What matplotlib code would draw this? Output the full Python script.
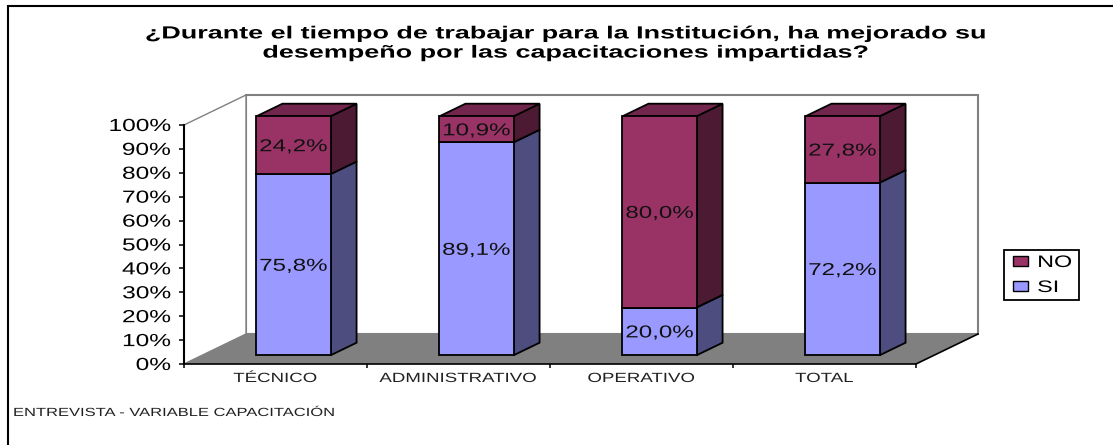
import matplotlib
matplotlib.use("Agg")
import matplotlib.pyplot as plt
from matplotlib.legend_handler import HandlerPatch
from matplotlib.lines import Line2D
from matplotlib.patches import Patch
from matplotlib.patheffects import AbstractPathEffect
from matplotlib.transforms import Affine2D

categories = ["TÉCNICO", "ADMINISTRATIVO", "OPERATIVO", "TOTAL"]
si_values = [75.8, 89.1, 20.0, 72.2]
no_values = [24.2, 10.9, 80.0, 27.8]
y_ticks = [0, 10, 20, 30, 40, 50, 60, 70, 80, 90, 100]
title = "¿Durante el tiempo de trabajar para la Institución, ha mejorado su\ndesempeño por las capacitaciones impartidas?"
footer = "ENTREVISTA - VARIABLE CAPACITACIÓN"

W, H = 1113, 445
FONT = "Liberation Sans"
TEXT_STRETCH = 1.4

# fake 3d: depth 1 is the back wall, shifted right and up in data units
DEPTH_X = 62 / 183
DEPTH_Y = 30 / 2.39
BAR_FRONT = 0.29
BAR_BACK = 0.71
BAR_WIDTH = 0.405

SI_FRONT, SI_SIDE = "#9999ff", "#4d4d80"
NO_FRONT, NO_SIDE, NO_TOP = "#993366", "#4d1a33", "#73264d"
GREY = "#808080"


class StretchX(AbstractPathEffect):
    # the reference picture was pulled wider, so the glyphs are too
    def __init__(self, text, sx):
        super().__init__()
        self.text = text
        self.sx = sx

    def draw_path(self, renderer, gc, tpath, affine, rgbFace=None):
        box = self.text.get_window_extent()
        ha = self.text.get_ha()
        cx = {"left": box.x0, "right": box.x1}.get(ha, (box.x0 + box.x1) / 2)
        stretch = Affine2D().translate(-cx, 0).scale(self.sx, 1).translate(cx, 0)
        renderer.draw_path(gc, tpath, affine + stretch, rgbFace)


def stretched(text, sx=TEXT_STRETCH):
    text.set_path_effects([StretchX(text, sx)])
    return text


def project(x, y, d):
    return x + d * DEPTH_X, y + d * DEPTH_Y


def face(ax, corners, color, edge="black", lw=1.3, z=3):
    xs, ys = zip(*[project(*c) for c in corners])
    ax.fill(xs, ys, facecolor=color, edgecolor=edge, linewidth=lw, clip_on=False, zorder=z, joinstyle="miter")


def draw_segment(ax, center, low, high, front, side, top=None):
    left, right = center - BAR_WIDTH / 2, center + BAR_WIDTH / 2
    face(ax, [(right, low, BAR_FRONT), (right, low, BAR_BACK), (right, high, BAR_BACK), (right, high, BAR_FRONT)], side)
    if top is not None:
        face(ax, [(left, high, BAR_FRONT), (right, high, BAR_FRONT), (right, high, BAR_BACK), (left, high, BAR_BACK)], top)
    face(ax, [(left, low, BAR_FRONT), (right, low, BAR_FRONT), (right, high, BAR_FRONT), (left, high, BAR_FRONT)], front)


def pct_label(value):
    return f"{value:.1f}%".replace(".", ",")


def main():
    plt.rcParams["font.family"] = FONT
    fig = plt.figure(figsize=(W / 100, H / 100), dpi=100)
    ax = fig.add_axes([184 / W, (H - 364) / H, 732 / W, 239 / H])
    ax.patch.set_visible(False)
    n = len(categories)
    ax.set_xlim(0, n)
    ax.set_ylim(0, 100)

    # walls and floor
    face(ax, [(0, 0, 1), (n, 0, 1), (n, 100, 1), (0, 100, 1)], "white", edge=GREY, lw=1.5, z=1)
    face(ax, [(0, 0, 0), (0, 0, 1), (0, 100, 1), (0, 100, 0)], "white", edge=GREY, lw=1.0, z=1)
    face(ax, [(0, 0, 0), (n, 0, 0), (n, 0, 1), (0, 0, 1)], GREY, edge="none", z=1.5)
    x_edge, y_edge = zip(project(n, 0, 0), project(n, 0, 1))
    ax.plot(x_edge, y_edge, color="black", lw=1.2, clip_on=False, zorder=2)

    for i in range(n):
        center = i + 0.5
        draw_segment(ax, center, 0, si_values[i], SI_FRONT, SI_SIDE)
        draw_segment(ax, center, si_values[i], 100, NO_FRONT, NO_SIDE, NO_TOP)
        x_lab, y_lab = project(center, si_values[i] / 2, BAR_FRONT)
        stretched(ax.text(x_lab, y_lab, pct_label(si_values[i]), ha="center", va="center_baseline", fontsize=12.4, color="#111111", zorder=5))
        x_lab, y_lab = project(center, si_values[i] + no_values[i] / 2, BAR_FRONT)
        stretched(ax.text(x_lab, y_lab, pct_label(no_values[i]), ha="center", va="center_baseline", fontsize=12.4, color="#111111", zorder=5))

    for name in ["top", "right"]:
        ax.spines[name].set_visible(False)
    ax.spines["left"].set_linewidth(1.5)
    ax.spines["bottom"].set_linewidth(1.2)
    ax.spines["left"].set_zorder(6)
    ax.spines["bottom"].set_zorder(6)

    ax.set_yticks(y_ticks)
    ax.set_yticklabels([f"{t}%" for t in y_ticks], fontsize=12.6, va="center_baseline")
    ax.tick_params(axis="y", length=3.5, width=1.1, pad=6)
    for label in ax.get_yticklabels():
        stretched(label)
    ax.set_xticks(range(n + 1))
    ax.set_xticklabels([""] * (n + 1))
    ax.tick_params(axis="x", length=3, width=1.1)
    for i, name in enumerate(categories):
        stretched(ax.annotate(name, (i + 0.5, 0), xytext=(0, -15), textcoords="offset pixels", ha="center", va="center",
                              fontsize=9.6, color="#222222", annotation_clip=False))

    stretched(fig.text(565 / W, 1 - 43.5 / H, title, ha="center", va="center", fontsize=12.6, fontweight="bold", linespacing=1.35), sx=1.54)
    stretched(fig.text(13 / W, 1 - 413 / H, footer, ha="left", va="center", fontsize=8.5, color="#222222"))

    # outer frame only shows on the top and left
    fig.add_artist(Line2D([8 / W, 8 / W, 1], [0, 1 - 6 / H, 1 - 6 / H], color="black", lw=1.5, solid_joinstyle="miter"))

    handles = [Patch(facecolor=NO_FRONT, edgecolor="black", label="NO"),
               Patch(facecolor=SI_FRONT, edgecolor="black", label="SI")]
    legend = fig.legend(handles=handles, loc="center", bbox_to_anchor=(1004 / W, 1 - 301 / H, 75 / W, 52 / H), mode="expand",
                        borderaxespad=0, fontsize=12, frameon=True, fancybox=False, edgecolor="black", framealpha=1,
                        handler_map={Patch: HandlerPatch(xpad=0.24)},
                        handlelength=1.14, handleheight=0.6, handletextpad=0.55, borderpad=0.3, labelspacing=0.6)
    legend.get_frame().set_linewidth(1.3)
    for label in legend.get_texts():
        stretched(label)

    fig.savefig("out.png", dpi=100)
    plt.close(fig)


if __name__ == "__main__":
    main()
